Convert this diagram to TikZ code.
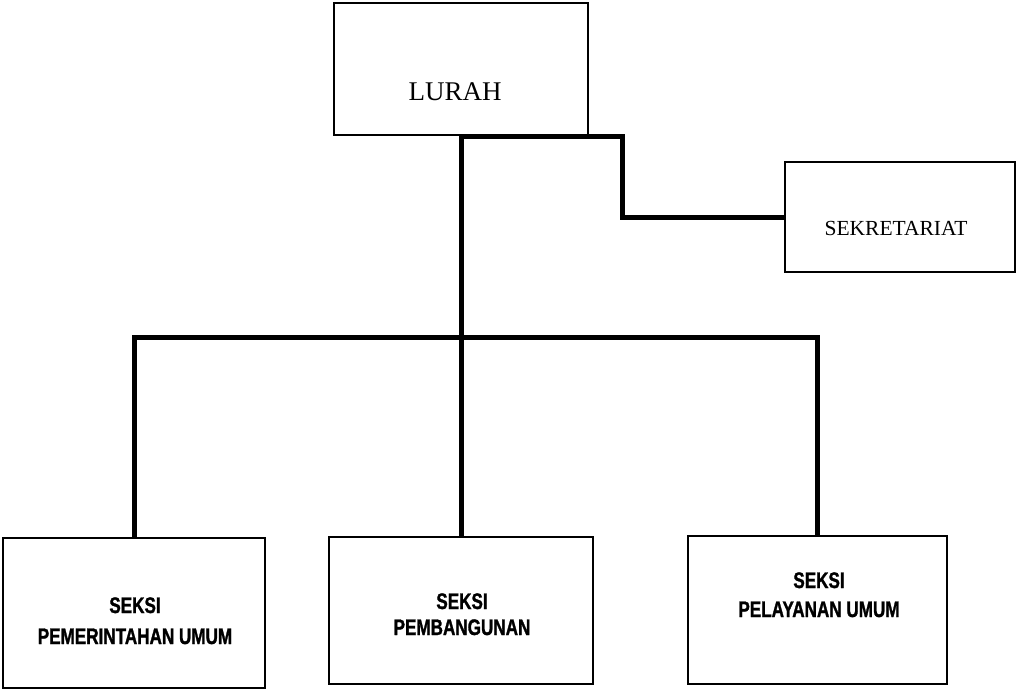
\documentclass[tikz,border=0pt]{standalone}
\usepackage{fontspec}
\newfontfamily\orgserif{Liberation Serif}
\newfontfamily\orgnarrow[FakeStretch=0.76,FakeBold=1.2]{Liberation Sans Bold}
\usetikzlibrary{calc}
\begin{document}
\begin{tikzpicture}[x=1pt,y=-1pt,
  unitbox/.style={draw,line width=1.3pt,inner sep=0pt,outer sep=0pt},
  conn/.style={line width=5pt,line join=miter,line cap=butt},
  headtext/.style={anchor=base,inner sep=0pt,font=\orgserif\fontsize{27}{30}\selectfont},
  sektext/.style={anchor=base,inner sep=0pt,font=\orgserif\fontsize{21.5}{24}\selectfont},
  sectext/.style={anchor=base,inner sep=0pt,font=\orgnarrow\fontsize{22.5}{26}\selectfont}]
\useasboundingbox (0,0) rectangle (1016,690);
\fill[white] (0,0) rectangle (1016,690);

% boxes
\node[unitbox,minimum width=254pt,minimum height=132pt] (lurah) at (461,69) {};
\node[unitbox,minimum width=230pt,minimum height=110pt] (sek) at (900,217) {};
\node[unitbox,minimum width=262pt,minimum height=150pt] (pem) at (134,613) {};
\node[unitbox,minimum width=264pt,minimum height=147pt] (bang) at (461,610.5) {};
\node[unitbox,minimum width=259pt,minimum height=148pt] (pel) at (817.5,610) {};

% labels
\node[headtext] (lurahT) at (455,100) {LURAH};
\node[sektext] (sekT) at (896,235) {SEKRETARIAT};
\node[sectext] (pemA) at (135,613) {SEKSI};
\node[sectext] (pemB) at (135,644) {PEMERINTAHAN UMUM};
\node[sectext] (bangA) at (462,609) {SEKSI};
\node[sectext] (bangB) at (462,635) {PEMBANGUNAN};
\node[sectext] (pelA) at (819,588) {SEKSI};
\node[sectext] (pelB) at (819,617) {PELAYANAN UMUM};

% connectors
\coordinate (hub) at (461,337);
\draw[conn] (bang.north) -- ($(lurah.south)+(0,1.5)$) -- ++(161,0) |- (sek.west);
\draw[conn] (pem.north) |- (hub) -| (pel.north);
\end{tikzpicture}
\end{document}
